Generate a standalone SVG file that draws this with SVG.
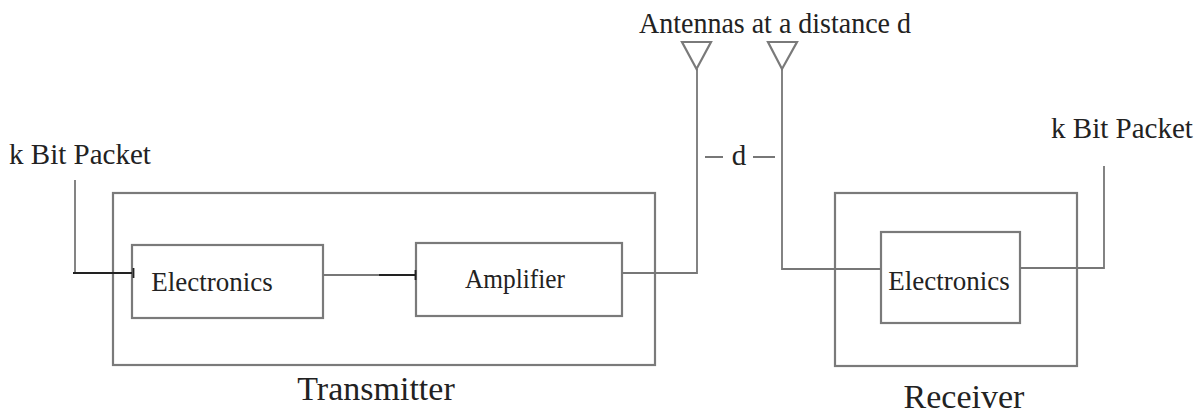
<svg xmlns="http://www.w3.org/2000/svg" width="1201" height="414" viewBox="0 0 1201 414">
<style>
.b{fill:none;stroke:#7a7a7a;stroke-width:2.2}
.c{fill:none;stroke:#777;stroke-width:1.8}
.k{fill:none;stroke:#222;stroke-width:1.8}
text{font-family:"Liberation Serif","Times New Roman",serif;fill:#222;text-anchor:middle}
.s{font-size:27px}
.m{font-size:29px}
.l{font-size:34px}
</style>
<rect width="1201" height="414" fill="#fff"/>
<g id="transmitter"><rect class="b" x="113" y="193" width="542" height="172"/><text class="l" x="376" y="400">Transmitter</text></g>
<g id="tx-electronics"><rect class="b" x="132" y="245" width="191" height="73"/><text class="s" x="212" y="291">Electronics</text></g>
<g id="amplifier"><rect class="b" x="416" y="243" width="206" height="73"/><text class="s" x="515" y="288" textLength="100" lengthAdjust="spacingAndGlyphs">Amplifier</text></g>
<g id="receiver"><rect class="b" x="835" y="193" width="242" height="173"/><text class="l" x="964" y="408">Receiver</text></g>
<g id="rx-electronics"><rect class="b" x="881" y="232" width="139" height="91"/><text class="s" x="949" y="290">Electronics</text></g>
<g id="antenna-tx"><path class="b" d="M682 42H711L696.500 69Z"/></g>
<g id="antenna-rx"><path class="b" d="M768 42H797L782 69Z"/></g>
<g id="labels">
<text class="m" x="775" y="33" textLength="272" lengthAdjust="spacingAndGlyphs">Antennas at a distance d</text>
<text class="m" x="80" y="164">k Bit Packet</text>
<text class="m" x="1122" y="138">k Bit Packet</text>
<text class="m" x="739" y="165">d</text>
</g>
<g id="connectors">
<path class="c" d="M75 180V273"/>
<path class="k" d="M73 273H132"/>
<path class="k" d="M133.500 268V278"/>
<path class="c" d="M323 275H379"/>
<path class="k" d="M379 275H416"/>
<path class="k" d="M415.500 270V280"/>
<path class="c" d="M622 273H697V69"/>
<path class="c" d="M782 69V269H881"/>
<path class="c" d="M1020 268H1104V166"/>
<path class="c" d="M705 157H723M753 157H775"/>
</g>
</svg>
